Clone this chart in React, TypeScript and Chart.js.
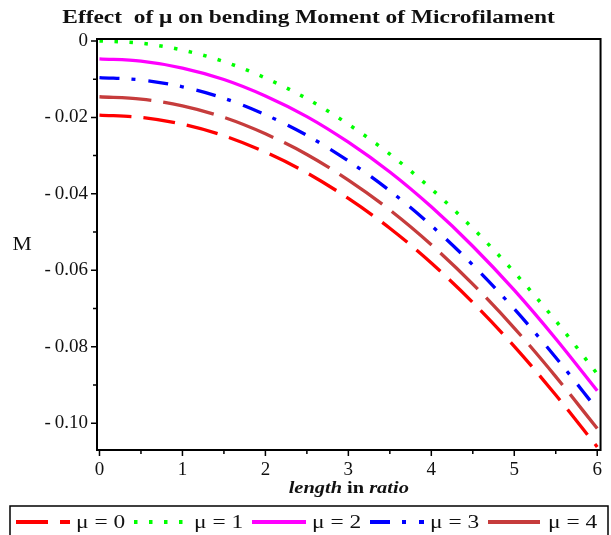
import React, { useEffect, useRef } from "react";
import { Chart, registerables } from "chart.js";

Chart.register(...registerables);

// ---- data ----
const xs = [0, 0.5, 1, 1.5, 2, 2.5, 3, 3.5, 4, 4.5, 5, 5.5, 6];
const mu0 = [-0.0194, -0.02, -0.0218, -0.0248, -0.0291, -0.0345, -0.0412, -0.049, -0.0581, -0.0684, -0.0799, -0.0926, -0.1062];
const mu1 = [0, -0.0006, -0.0024, -0.0054, -0.0097, -0.0151, -0.0218, -0.0296, -0.0387, -0.049, -0.0605, -0.0732, -0.0871];
const mu2 = [-0.0047, -0.0053, -0.0071, -0.0101, -0.0144, -0.0198, -0.0265, -0.0343, -0.0434, -0.0537, -0.0652, -0.0779, -0.0915];
const mu3 = [-0.0096, -0.0102, -0.012, -0.015, -0.0193, -0.0247, -0.0314, -0.0392, -0.0483, -0.0586, -0.0701, -0.0828, -0.0964];
const mu4 = [-0.0146, -0.0152, -0.017, -0.02, -0.0243, -0.0297, -0.0364, -0.0442, -0.0533, -0.0636, -0.0751, -0.0878, -0.1014];

const seriesLabels = ["μ = 0", "μ = 1", "μ = 2", "μ = 3", "μ = 4"];
const seriesValues = [mu0, mu1, mu2, mu3, mu4];
const seriesColors = ["#ff0000", "#00ff00", "#ff00ff", "#0000ff", "#c63c3c"];
const seriesDashes = [[32, 12], [3.5, 11.5], [], [20, 12, 4, 13], [52, 12]];

const xMajorTicks = [0, 1, 2, 3, 4, 5, 6];
const xMinorTicks = [0.5, 1.5, 2.5, 3.5, 4.5, 5.5];
const yMajorTicks = [0, -0.02, -0.04, -0.06, -0.08, -0.1];
const yMinorTicks = [-0.01, -0.03, -0.05, -0.07, -0.09];

const titleText = "Effect  of μ on bending Moment of Microfilament";
const yTitle = "M";
const xTitleParts = [
  { t: "length ", f: "italic bold" },
  { t: "in ", f: "bold" },
  { t: "ratio", f: "italic bold" },
];

const SERIF = "'Liberation Serif', 'Times New Roman', serif";

const decorPlugin = {
  id: "decor",
  afterDraw(chart: any) {
    const ctx: CanvasRenderingContext2D = chart.ctx;
    const a = chart.chartArea;
    const xs_ = chart.scales.x;
    const ys_ = chart.scales.y;
    ctx.save();
    // frame
    ctx.strokeStyle = "#000";
    ctx.lineWidth = 2;
    ctx.setLineDash([]);
    ctx.strokeRect(a.left, a.top, a.right - a.left, a.bottom - a.top);
    // ticks
    ctx.lineWidth = 1.5;
    ctx.beginPath();
    xMajorTicks.forEach((v) => {
      const px = xs_.getPixelForValue(v);
      ctx.moveTo(px, a.bottom);
      ctx.lineTo(px, a.bottom + 6);
    });
    xMinorTicks.forEach((v) => {
      const px = xs_.getPixelForValue(v);
      ctx.moveTo(px, a.bottom);
      ctx.lineTo(px, a.bottom + 4);
    });
    yMajorTicks.forEach((v) => {
      const py = ys_.getPixelForValue(v);
      ctx.moveTo(a.left, py);
      ctx.lineTo(a.left - 6, py);
    });
    yMinorTicks.forEach((v) => {
      const py = ys_.getPixelForValue(v);
      ctx.moveTo(a.left, py);
      ctx.lineTo(a.left - 4, py);
    });
    ctx.stroke();

    ctx.fillStyle = "#111";
    ctx.textBaseline = "middle";
    // title
    ctx.save();
    ctx.font = `bold 18px ${SERIF}`;
    ctx.textAlign = "center";
    ctx.translate(chart.width / 2 + 3, 18);
    ctx.scale(1.3, 1);
    ctx.fillText(titleText, 0, 0);
    ctx.restore();

    // y title
    ctx.save();
    ctx.font = `18px ${SERIF}`;
    ctx.textAlign = "center";
    ctx.translate(22, 245);
    ctx.scale(1.2, 1);
    ctx.fillText(yTitle, 0, 0);
    ctx.restore();

    // x title
    ctx.save();
    const sx = 1.2;
    let total = 0;
    const widths = xTitleParts.map((p) => {
      ctx.font = `${p.f} 17px ${SERIF}`;
      const w = ctx.measureText(p.t).width;
      total += w;
      return w;
    });
    ctx.translate((a.left + a.right) / 2 - (total * sx) / 2, 489);
    ctx.scale(sx, 1);
    ctx.textAlign = "left";
    let cx = 0;
    xTitleParts.forEach((p, i) => {
      ctx.font = `${p.f} 17px ${SERIF}`;
      ctx.fillText(p.t, cx, 0);
      cx += widths[i];
    });
    ctx.restore();

    // legend
    ctx.lineWidth = 1.5;
    ctx.strokeStyle = "#000";
    ctx.strokeRect(10, 506, 598, 36);
    const ly = 522;
    seriesLabels.forEach((lab, i) => {
      const x0 = 16 + i * 118;
      ctx.save();
      ctx.strokeStyle = seriesColors[i];
      ctx.lineWidth = 4;
      ctx.setLineDash(seriesDashes[i]);
      ctx.beginPath();
      ctx.moveTo(x0, ly);
      ctx.lineTo(x0 + 54, ly);
      ctx.stroke();
      ctx.restore();
      ctx.save();
      ctx.font = `18px ${SERIF}`;
      ctx.textAlign = "left";
      ctx.translate(x0 + 60, ly + 1);
      ctx.scale(1.3, 1);
      ctx.fillStyle = "#111";
      ctx.fillText(lab, 0, 0);
      ctx.restore();
    });
    ctx.restore();
  },
};

export default function App() {
  const ref = useRef<HTMLCanvasElement | null>(null);
  useEffect(() => {
    if (!ref.current) return;
    const datasets = seriesLabels.map((lab, i) => ({
      label: lab,
      data: xs.map((x, j) => ({ x, y: seriesValues[i][j] })),
      borderColor: seriesColors[i],
      backgroundColor: seriesColors[i],
      borderDash: seriesDashes[i],
      borderWidth: i === 1 ? 3.5 : 3.3,
      pointRadius: 0,
      cubicInterpolationMode: "monotone" as const,
      fill: false,
    }));
    const chart = new Chart(ref.current, {
      type: "line",
      data: { datasets },
      plugins: [decorPlugin],
      options: {
        animation: false,
        responsive: false,
        layout: { padding: { top: 39, right: 3, bottom: 45, left: 0 } },
        plugins: {
          legend: { display: false },
          title: { display: false },
          tooltip: { enabled: false },
        },
        scales: {
          x: {
            type: "linear",
            min: -0.03,
            max: 6.04,
            grid: { display: false, drawTicks: false },
            border: { display: false },
            afterBuildTicks: (s: any) => {
              s.ticks = xMajorTicks.map((v) => ({ value: v }));
            },
            afterFit: (s: any) => {
              s.height = 40;
            },
            ticks: {
              autoSkip: false,
              maxRotation: 0,
              padding: 9,
              color: "#111",
              font: { family: SERIF, size: 19 },
              callback: (v: any) => String(v),
            },
          },
          y: {
            type: "linear",
            min: -0.107,
            max: 0.0005,
            grid: { display: false, drawTicks: false },
            border: { display: false },
            afterBuildTicks: (s: any) => {
              s.ticks = yMajorTicks.map((v) => ({ value: v }));
            },
            afterFit: (s: any) => {
              s.width = 97;
            },
            ticks: {
              autoSkip: false,
              padding: 9,
              color: "#111",
              font: { family: SERIF, size: 19 },
              callback: (v: any) =>
                Math.abs(v) < 1e-9 ? "0" : "-\u2009" + Math.abs(v).toFixed(2),
            },
          },
        },
      },
    });
    return () => chart.destroy();
  }, []);
  return (
    <div
      style={{
        position: "fixed",
        left: 0,
        top: 0,
        width: 611,
        height: 535,
        background: "#fff",
      }}
    >
      <canvas ref={ref} width={611} height={535} style={{ width: 611, height: 535, display: "block" }} />
    </div>
  );
}
